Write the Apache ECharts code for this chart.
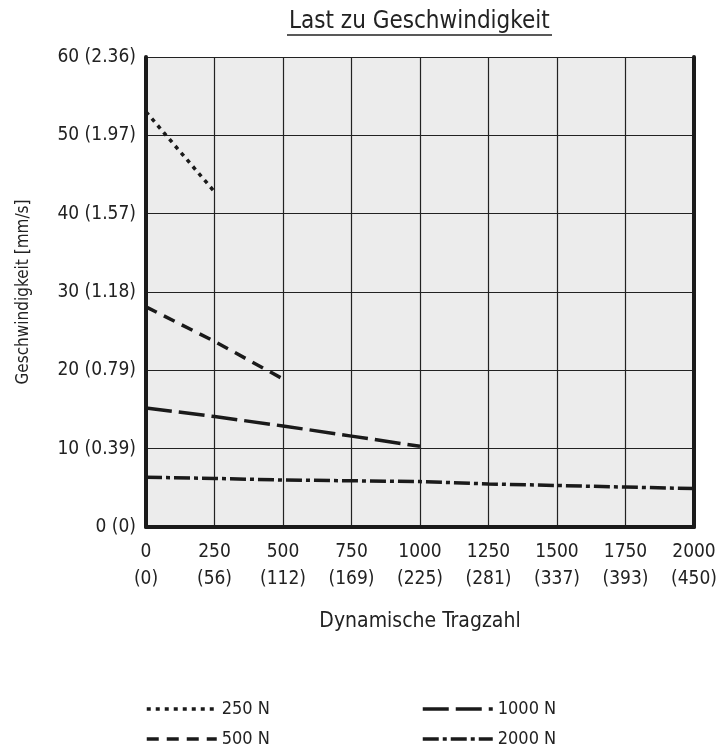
<!DOCTYPE html>
<html><head><meta charset="utf-8">
<script src="https://cdn.jsdelivr.net/npm/echarts@6/dist/echarts.min.js"></script>
<style>html,body{margin:0;padding:0;background:#fff}#c{width:721px;height:753px}</style>
</head><body><div id="c"></div>
<script>
const xTicks = [0,250,500,750,1000,1250,1500,1750,2000];
const xTickSub = ['(0)','(56)','(112)','(169)','(225)','(281)','(337)','(393)','(450)'];
const yTicks = [0,10,20,30,40,50,60];
const yTickSub = ['(0)','(0.39)','(0.79)','(1.18)','(1.57)','(1.97)','(2.36)'];
const seriesNames = ['250 N','500 N','1000 N','2000 N'];
const s250 = [[0,53.0],[250,42.8]];
const s500 = [[0,28.1],[250,23.7],[500,18.9]];
const s1000 = [[0,15.2],[250,14.1],[500,12.9],[750,11.6],[1000,10.3]];
const s2000 = [[0,6.35],[250,6.2],[500,6.0],[750,5.9],[1000,5.8],[1250,5.5],[1500,5.3],[1750,5.1],[2000,4.9]];

const FONT = "'Liberation Sans Narrow','DejaVu Sans Condensed',sans-serif";
const ink = '#1a1a1a';
const chart = echarts.init(document.getElementById('c'));
function mk(name, data, dash){
  return {name, type:'line', data, symbol:'none', showSymbol:false, smooth:false,
    lineStyle:{color:ink, width:3.5, type:dash, cap:'butt'}, itemStyle:{color:ink}};
}
function lg(name, left, top){
  return {data:[name], left, top, itemWidth:70, itemHeight:14,
    itemStyle:{opacity:0, borderWidth:0},
    lineStyle:{width:3.5},
    textStyle:{fontFamily:FONT, fontSize:18, color:'#222'}};
}
chart.setOption({
  animation:false,
  backgroundColor:'#fff',
  textStyle:{fontFamily:FONT},
  title:{text:'Last zu Geschwindigkeit', left:284, top:5,
    textStyle:{fontFamily:FONT, fontSize:24, fontWeight:'normal', color:'#222'}},
  grid:{left:146, right:27, top:57, bottom:226, show:true, backgroundColor:'#ececec', borderWidth:0},
  xAxis:{type:'value', min:0, max:2000, interval:250,
    name:'Dynamische Tragzahl', nameLocation:'middle', nameGap:84,
    nameTextStyle:{fontFamily:FONT, fontSize:21, color:'#222'},
    axisLine:{show:true, lineStyle:{color:ink, width:4}},
    axisTick:{show:false},
    splitLine:{show:true, lineStyle:{color:'#222', width:1.2}},
    axisLabel:{fontFamily:FONT, fontSize:19, color:'#222', margin:12, lineHeight:27,
      formatter:v=>{const i=xTicks.indexOf(v); return v+'\n'+xTickSub[i];}}},
  yAxis:[{type:'value', min:0, max:60, interval:10,
    name:'Geschwindigkeit [mm/s]', nameLocation:'middle', nameGap:114,
    nameTextStyle:{fontFamily:FONT, fontSize:17, color:'#222'},
    axisLine:{show:true, lineStyle:{color:ink, width:4}},
    axisTick:{show:false},
    splitLine:{show:true, lineStyle:{color:'#222', width:1.2}},
    axisLabel:{fontFamily:FONT, fontSize:19, color:'#222', margin:10,
      formatter:v=>{const i=yTicks.indexOf(v); return v+' '+yTickSub[i];}}},
   {type:'value', min:0, max:60, interval:10, position:'right',
    axisLine:{show:true, lineStyle:{color:ink, width:4}},
    axisTick:{show:false}, axisLabel:{show:false}, splitLine:{show:false}}],
  legend:[
    lg(seriesNames[0], 140, 695),
    lg(seriesNames[1], 140, 725),
    lg(seriesNames[2], 416, 695),
    lg(seriesNames[3], 416, 725)
  ],
  series:[
    mk(seriesNames[0], s250, [4,5]),
    mk(seriesNames[1], s500, [12,8]),
    mk(seriesNames[2], s1000, [26,7]),
    mk(seriesNames[3], s2000, [16,4,4,4])
  ]
});
chart.setOption({graphic:[{type:'line', shape:{x1:287,y1:35,x2:552,y2:35}, style:{stroke:'#222', lineWidth:1.5}}]});
</script></body></html>
